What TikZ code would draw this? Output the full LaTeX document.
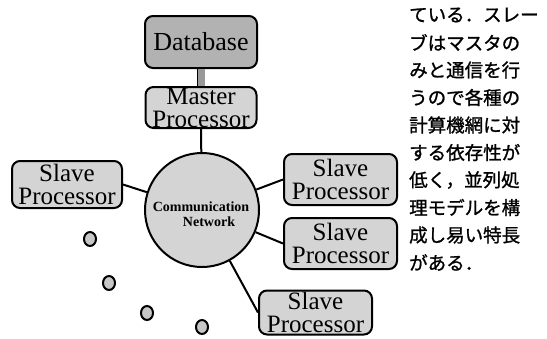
\documentclass[tikz,border=0pt]{standalone}
\usepackage{fontspec}
\setmainfont{Liberation Serif}
\newfontfamily\jp[FakeBold=1.2]{Noto Sans CJK JP}
\usetikzlibrary{shapes.geometric}
\begin{document}
\begin{tikzpicture}[x=1pt,y=-1pt,
  procbox/.style={draw, line width=2pt, rounded corners=8pt, fill=black!17,
    inner sep=0pt, align=center, font=\fontsize{25}{23}\selectfont},
  link/.style={line width=2pt},
  dot/.style={ellipse, draw, line width=2pt, fill=black!22, minimum width=12pt,
    minimum height=14pt, inner sep=0pt},
  cntext/.style={inner sep=0pt, font=\bfseries\fontsize{14}{14}\selectfont},
  jtext/.style={anchor=west, inner sep=0pt, font=\jp\fontsize{18.5}{18.5}\selectfont}
]
\useasboundingbox (0,0) rectangle (547,338);

% boxes
\node[procbox, fill=black!30, minimum width=112pt, minimum height=52pt,
  font=\fontsize{26}{26}\selectfont] (db) at (201,42) {Database};
\node[procbox, minimum width=111pt, minimum height=41pt] (ms) at (201,107.5) {Master\\Processor};
\node[procbox, minimum width=110pt, minimum height=47pt] (ls) at (67,184.5) {Slave\\Processor};
\node[procbox, minimum width=113pt, minimum height=51pt] (rs1) at (340.5,179.5) {Slave\\Processor};
\node[procbox, minimum width=113pt, minimum height=51pt] (rs2) at (340.5,243.5) {Slave\\Processor};
\node[procbox, minimum width=113pt, minimum height=44pt] (bs) at (315.5,312.5) {Slave\\Processor};

% network circle
\node[circle, draw, line width=2pt, fill=black!17, minimum size=114pt, inner sep=0pt] (cn) at (202,210) {};
\node[cntext] (cm) at (201,207) {Communication};
\node[cntext] (nw) at (209,222) {Network};

% connectors
\draw[line width=0.8pt, double=black!40, double distance=7pt] (db.south) -- (ms.north);
\draw[link] (ms.south) -- (cn);
\draw[link] (ls.east) -- (cn);
\draw[link] (rs1.west) -- (cn);
\draw[link] (rs2.west) -- (cn);
\draw[link] (cn) -- (bs.west);

% small dots
\node[dot] (d1) at (90,239) {};
\node[dot] (d2) at (109,283) {};
\node[dot] (d3) at (147,313) {};
\node[dot] (d4) at (202,327) {};

% Japanese text
\node[jtext] (j1) at (409,15) {ている．スレー};
\node[jtext] (j2) at (409,42.5) {ブはマスタの};
\node[jtext] (j3) at (409,70) {みと通信を行};
\node[jtext] (j4) at (409,97.5) {うので各種の};
\node[jtext] (j5) at (409,125) {計算機網に対};
\node[jtext] (j6) at (409,152.5) {する依存性が};
\node[jtext] (j7) at (409,180) {低く，並列処};
\node[jtext] (j8) at (409,207.5) {理モデルを構};
\node[jtext] (j9) at (409,235) {成し易い特長};
\node[jtext] (j10) at (409,262.5) {がある．};
\end{tikzpicture}
\end{document}
